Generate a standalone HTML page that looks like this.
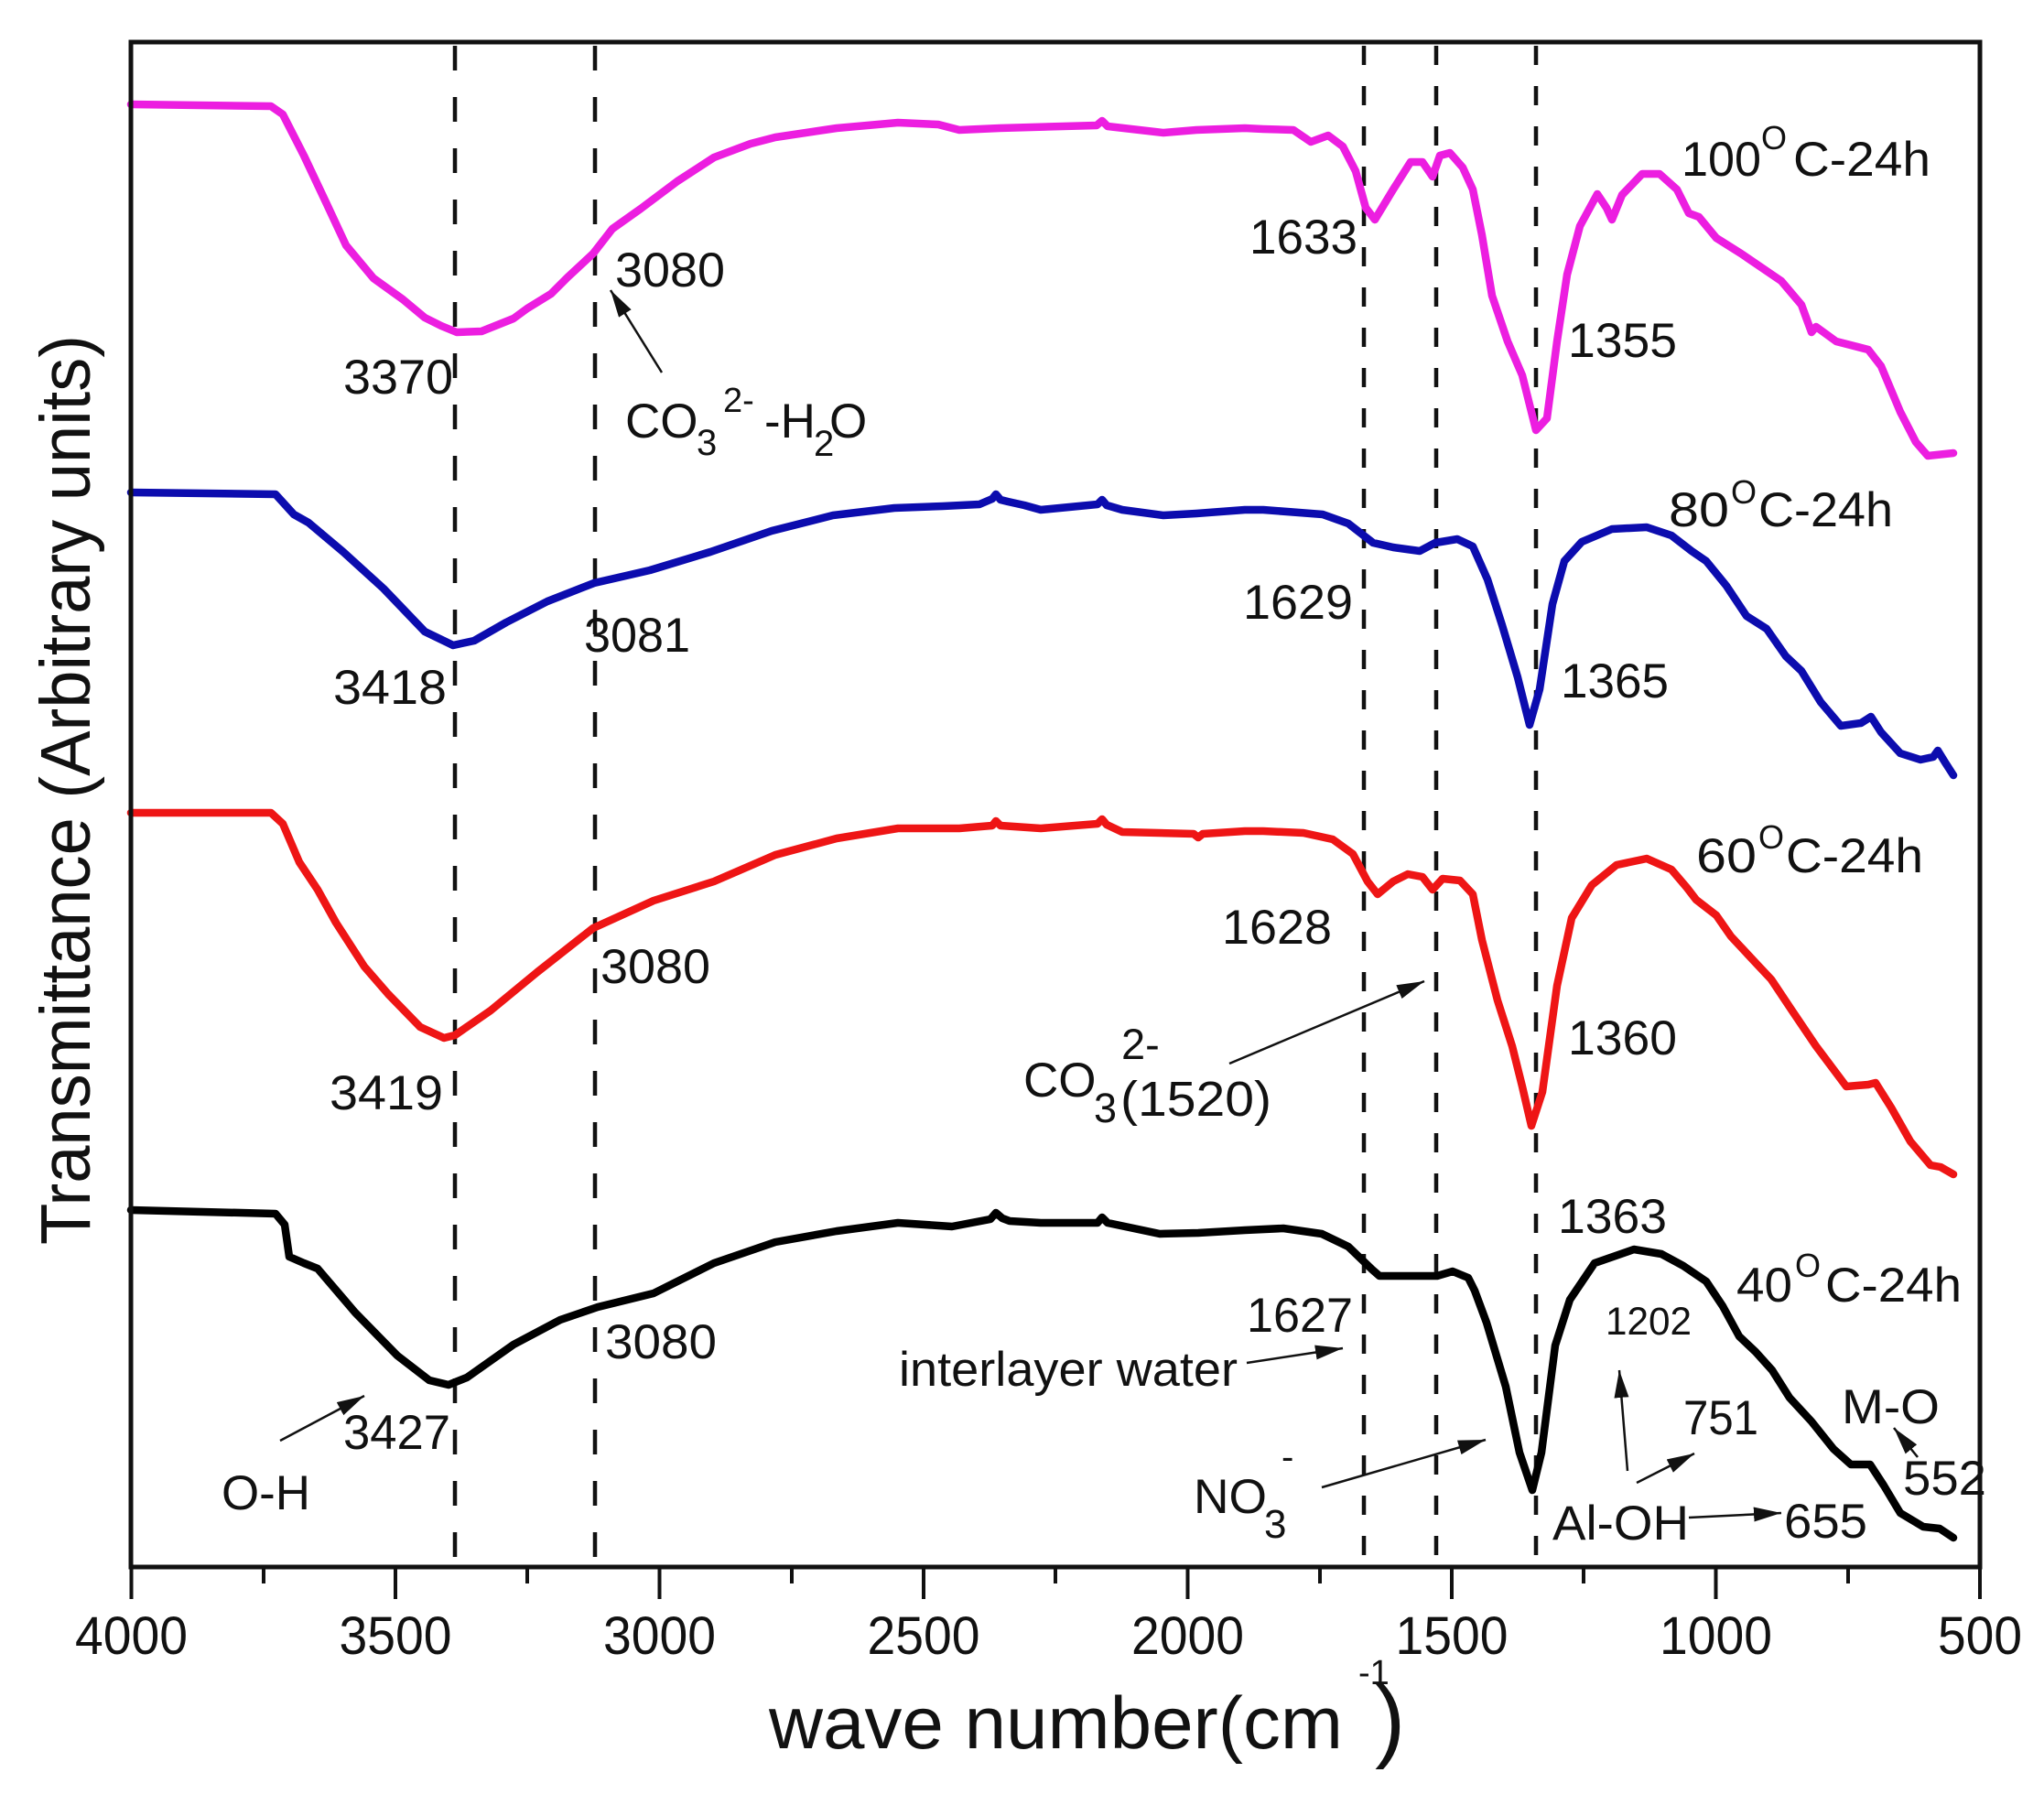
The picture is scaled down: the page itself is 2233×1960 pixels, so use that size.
<!DOCTYPE html>
<html>
<head>
<meta charset="utf-8">
<style>
  html, body { margin: 0; padding: 0; background: #ffffff; }
  svg { display: block; }
  text { font-family: "Liberation Sans", Arial, sans-serif; fill: #111; }
</style>
</head>
<body>
<svg width="2233" height="1960" viewBox="0 0 2233 1960" xmlns="http://www.w3.org/2000/svg">
  <defs>
    <marker id="ah" viewBox="0 0 30 16" refX="30" refY="8" markerWidth="30" markerHeight="16" markerUnits="userSpaceOnUse" orient="auto">
      <path d="M0,0 L30,8 L0,16 z" fill="#111"/>
    </marker>
  </defs>
  <rect x="0" y="0" width="2233" height="1960" fill="#fff"/>

  <!-- dashed reference lines -->
  <g stroke="#111" stroke-width="4.5" fill="none">
    <line x1="497" y1="50" x2="497" y2="1702" stroke-dasharray="27 29"/>
    <line x1="650" y1="50" x2="650" y2="1702" stroke-dasharray="27 29"/>
    <line x1="1490" y1="50" x2="1490" y2="1702" stroke-dasharray="21 23"/>
    <line x1="1569" y1="50" x2="1569" y2="1702" stroke-dasharray="21 23"/>
    <line x1="1678" y1="50" x2="1678" y2="1702" stroke-dasharray="21 23"/>
  </g>

  <!-- curves -->
  <g fill="none" stroke-width="8.5" stroke-linejoin="round" stroke-linecap="round">
    <polyline stroke="#ec1ee0" points="143,114 296,116 309,125 332,170 357,223 378,268 408,304 440,327 464,347 482,356 499,363 526,362 561,348 576,337 602,321 620,303 648,277 669,250 700,228 740,198 780,172 820,157 847,150 914,140 981,134 1025,136 1048,142 1092,140 1198,137 1204,132 1210,138 1271,145 1307,142 1360,140 1380,141 1413,142 1432,155 1451,148 1467,160 1481,187 1492,227 1502,240 1522,207 1541,177 1554,177 1565,193 1573,170 1584,167 1598,183 1609,207 1619,257 1630,323 1647,373 1663,410 1678,470 1690,457 1701,373 1712,300 1726,247 1745,212 1755,227 1761,240 1772,213 1794,190 1813,190 1832,207 1845,233 1856,237 1875,260 1902,277 1946,307 1968,333 1979,363 1984,357 2006,373 2041,382 2055,400 2076,450 2093,483 2106,498 2134,495"/>
    <polyline stroke="#0c0cae" points="143,538 301,540 321,562 337,571 375,603 419,643 464,690 495,705 518,700 553,680 598,657 649,637 710,623 776,603 843,580 910,563 977,555 1030,553 1070,551 1084,545 1088,540 1093,546 1101,548 1119,552 1137,557 1199,551 1204,546 1209,552 1226,557 1271,563 1307,561 1360,557 1380,557 1445,562 1473,572 1500,593 1522,598 1551,602 1568,593 1592,589 1609,597 1625,633 1641,683 1658,740 1671,792 1682,753 1696,660 1709,613 1728,592 1761,578 1799,576 1826,585 1848,602 1864,613 1886,640 1908,673 1930,687 1951,717 1968,733 1989,767 2011,793 2033,790 2044,783 2055,800 2076,823 2098,830 2112,827 2117,820 2125,833 2134,847"/>
    <polyline stroke="#ee1515" points="143,888 296,888 309,900 327,942 347,972 367,1008 398,1056 424,1086 459,1122 485,1134 497,1131 536,1104 587,1062 648,1014 714,984 780,963 847,934 914,916 981,905 1048,905 1084,902 1088,897 1093,902 1137,905 1199,900 1204,895 1209,901 1226,909 1304,911 1309,915 1314,911 1360,908 1380,908 1424,910 1456,917 1478,933 1494,963 1505,977 1522,963 1538,955 1554,958 1565,972 1576,960 1595,962 1609,977 1619,1027 1636,1093 1652,1143 1663,1187 1673,1230 1685,1193 1701,1077 1717,1003 1739,967 1766,945 1799,938 1826,950 1843,970 1853,983 1875,1000 1891,1023 1919,1053 1935,1070 1957,1103 1984,1143 2017,1187 2041,1185 2049,1183 2066,1210 2087,1247 2109,1273 2120,1275 2134,1283"/>
    <polyline stroke="#000" points="143,1322 301,1326 311,1338 316,1373 332,1380 347,1386 388,1434 434,1481 469,1508 490,1513 510,1505 561,1469 612,1442 653,1428 714,1413 780,1380 847,1357 914,1345 981,1336 1040,1340 1082,1332 1088,1325 1095,1331 1103,1334 1137,1336 1199,1336 1204,1330 1210,1336 1267,1348 1309,1347 1360,1344 1402,1342 1444,1348 1473,1362 1499,1387 1507,1394 1570,1394 1587,1389 1604,1396 1611,1410 1624,1445 1645,1515 1660,1587 1674,1628 1684,1587 1699,1470 1715,1420 1742,1380 1785,1365 1815,1370 1839,1383 1864,1400 1882,1427 1900,1460 1918,1477 1936,1497 1955,1527 1979,1553 2003,1583 2022,1600 2043,1600 2058,1623 2076,1653 2101,1668 2119,1670 2134,1680"/>
  </g>

  <!-- axes frame -->
  <rect x="143" y="46" width="2020" height="1666" fill="none" stroke="#111" stroke-width="5"/>
  <!-- ticks -->
  <g stroke="#111" stroke-width="4">
    <line x1="143.5" y1="1712" x2="143.5" y2="1747"/>
    <line x1="288" y1="1712" x2="288" y2="1730"/>
    <line x1="432" y1="1712" x2="432" y2="1747"/>
    <line x1="576" y1="1712" x2="576" y2="1730"/>
    <line x1="720.5" y1="1712" x2="720.5" y2="1747"/>
    <line x1="865" y1="1712" x2="865" y2="1730"/>
    <line x1="1009" y1="1712" x2="1009" y2="1747"/>
    <line x1="1153" y1="1712" x2="1153" y2="1730"/>
    <line x1="1297.5" y1="1712" x2="1297.5" y2="1747"/>
    <line x1="1442" y1="1712" x2="1442" y2="1730"/>
    <line x1="1586" y1="1712" x2="1586" y2="1747"/>
    <line x1="1730" y1="1712" x2="1730" y2="1730"/>
    <line x1="1874.5" y1="1712" x2="1874.5" y2="1747"/>
    <line x1="2019" y1="1712" x2="2019" y2="1730"/>
    <line x1="2163" y1="1712" x2="2163" y2="1747"/>
  </g>
  <!-- tick labels -->
  <g font-size="58" text-anchor="middle">
    <text x="143.5" y="1807" textLength="123" lengthAdjust="spacingAndGlyphs">4000</text>
    <text x="432" y="1807" textLength="123" lengthAdjust="spacingAndGlyphs">3500</text>
    <text x="720.5" y="1807" textLength="123" lengthAdjust="spacingAndGlyphs">3000</text>
    <text x="1009" y="1807" textLength="123" lengthAdjust="spacingAndGlyphs">2500</text>
    <text x="1297.5" y="1807" textLength="123" lengthAdjust="spacingAndGlyphs">2000</text>
    <text x="1586" y="1807" textLength="123" lengthAdjust="spacingAndGlyphs">1500</text>
    <text x="1874.5" y="1807" textLength="123" lengthAdjust="spacingAndGlyphs">1000</text>
    <text x="2163" y="1807" textLength="92" lengthAdjust="spacingAndGlyphs">500</text>
  </g>

  <!-- axis titles -->
  <text x="840" y="1910" font-size="81" textLength="627" lengthAdjust="spacingAndGlyphs">wave number(cm</text>
  <text x="1484" y="1840" font-size="38">-1</text>
  <text x="1502" y="1912" font-size="100">)</text>
  <text transform="translate(98,1360) rotate(-90)" font-size="77" textLength="994" lengthAdjust="spacingAndGlyphs">Transmittance (Arbitrary units)</text>

  <!-- arrows -->
  <g stroke="#111" stroke-width="2.5" fill="none">
    <line x1="723" y1="407" x2="667" y2="317" marker-end="url(#ah)"/>
    <line x1="1343" y1="1162" x2="1556" y2="1072" marker-end="url(#ah)"/>
    <line x1="1362" y1="1489" x2="1467" y2="1473" marker-end="url(#ah)"/>
    <line x1="1444" y1="1625" x2="1623" y2="1573" marker-end="url(#ah)"/>
    <line x1="306" y1="1574" x2="398" y2="1525" marker-end="url(#ah)"/>
    <line x1="1778" y1="1607" x2="1769" y2="1497" marker-end="url(#ah)"/>
    <line x1="1788" y1="1620" x2="1851" y2="1588" marker-end="url(#ah)"/>
    <line x1="1845" y1="1658" x2="1946" y2="1653" marker-end="url(#ah)"/>
    <line x1="2095" y1="1592" x2="2069" y2="1560" marker-end="url(#ah)"/>
  </g>

  <!-- annotations -->
  <g font-size="53">
    <!-- magenta -->
    <text x="375" y="430" textLength="120" lengthAdjust="spacingAndGlyphs">3370</text>
    <text x="672" y="313" textLength="120" lengthAdjust="spacingAndGlyphs">3080</text>
    <text x="1365" y="277" textLength="118" lengthAdjust="spacingAndGlyphs">1633</text>
    <text x="1713" y="390" textLength="119" lengthAdjust="spacingAndGlyphs">1355</text>
    <text x="1837" y="192" textLength="87" lengthAdjust="spacingAndGlyphs">100</text>
    <text x="1959" y="192" textLength="150" lengthAdjust="spacingAndGlyphs">C-24h</text>
    <!-- blue -->
    <text x="364" y="769" textLength="124" lengthAdjust="spacingAndGlyphs">3418</text>
    <text x="638" y="712" textLength="116" lengthAdjust="spacingAndGlyphs">3081</text>
    <text x="1358" y="676" textLength="120" lengthAdjust="spacingAndGlyphs">1629</text>
    <text x="1705" y="762" textLength="118" lengthAdjust="spacingAndGlyphs">1365</text>
    <text x="1823" y="575" textLength="66" lengthAdjust="spacingAndGlyphs">80</text>
    <text x="1921" y="575" textLength="147" lengthAdjust="spacingAndGlyphs">C-24h</text>
    <!-- red -->
    <text x="360" y="1212" textLength="124" lengthAdjust="spacingAndGlyphs">3419</text>
    <text x="656" y="1074" textLength="120" lengthAdjust="spacingAndGlyphs">3080</text>
    <text x="1335" y="1031" textLength="120" lengthAdjust="spacingAndGlyphs">1628</text>
    <text x="1713" y="1152" textLength="119" lengthAdjust="spacingAndGlyphs">1360</text>
    <text x="1853" y="953" textLength="66" lengthAdjust="spacingAndGlyphs">60</text>
    <text x="1951" y="953" textLength="150" lengthAdjust="spacingAndGlyphs">C-24h</text>
    <!-- black -->
    <text x="375" y="1583" textLength="117" lengthAdjust="spacingAndGlyphs">3427</text>
    <text x="661" y="1484" textLength="122" lengthAdjust="spacingAndGlyphs">3080</text>
    <text x="242" y="1649" textLength="97" lengthAdjust="spacingAndGlyphs">O-H</text>
    <text x="1362" y="1455" textLength="116" lengthAdjust="spacingAndGlyphs">1627</text>
    <text x="1702" y="1347" textLength="119" lengthAdjust="spacingAndGlyphs">1363</text>
    <text x="1897" y="1422" textLength="61" lengthAdjust="spacingAndGlyphs">40</text>
    <text x="1994" y="1422" textLength="149" lengthAdjust="spacingAndGlyphs">C-24h</text>
    <text x="1839" y="1567" textLength="82" lengthAdjust="spacingAndGlyphs">751</text>
    <text x="2012" y="1555" textLength="107" lengthAdjust="spacingAndGlyphs">M-O</text>
    <text x="2079" y="1633" textLength="91" lengthAdjust="spacingAndGlyphs">552</text>
    <text x="1696" y="1682" textLength="149" lengthAdjust="spacingAndGlyphs">Al-OH</text>
    <text x="1949" y="1680" textLength="91" lengthAdjust="spacingAndGlyphs">655</text>
    <text x="982" y="1514" textLength="370" lengthAdjust="spacingAndGlyphs">interlayer water</text>
    <text x="1304" y="1653" textLength="80" lengthAdjust="spacingAndGlyphs">NO</text>
  </g>
  <text x="1754" y="1458" font-size="43" textLength="94" lengthAdjust="spacingAndGlyphs">1202</text>
  <!-- NO3- pieces -->
  <text x="1381" y="1680" font-size="44">3</text>
  <text x="1400" y="1605" font-size="40">-</text>

  <!-- degree symbols -->
  <g font-size="36">
    <text x="1924" y="163">O</text>
    <text x="1891" y="550">O</text>
    <text x="1921" y="927">O</text>
    <text x="1961" y="1395">O</text>
  </g>

  <!-- CO3 2- -H2O -->
  <text x="683" y="478" font-size="53">CO</text>
  <text x="761" y="497" font-size="40">3</text>
  <text x="790" y="450" font-size="38">2-</text>
  <text x="835" y="478" font-size="53">-H</text>
  <text x="889" y="498" font-size="40">2</text>
  <text x="906" y="478" font-size="53">O</text>

  <!-- CO3(1520) with 2- -->
  <text x="1118" y="1198" font-size="53">CO</text>
  <text x="1195" y="1226" font-size="45">3</text>
  <text x="1224" y="1219" font-size="54" textLength="165" lengthAdjust="spacingAndGlyphs">(1520)</text>
  <text x="1225" y="1157" font-size="47">2-</text>
</svg>
</body>
</html>
